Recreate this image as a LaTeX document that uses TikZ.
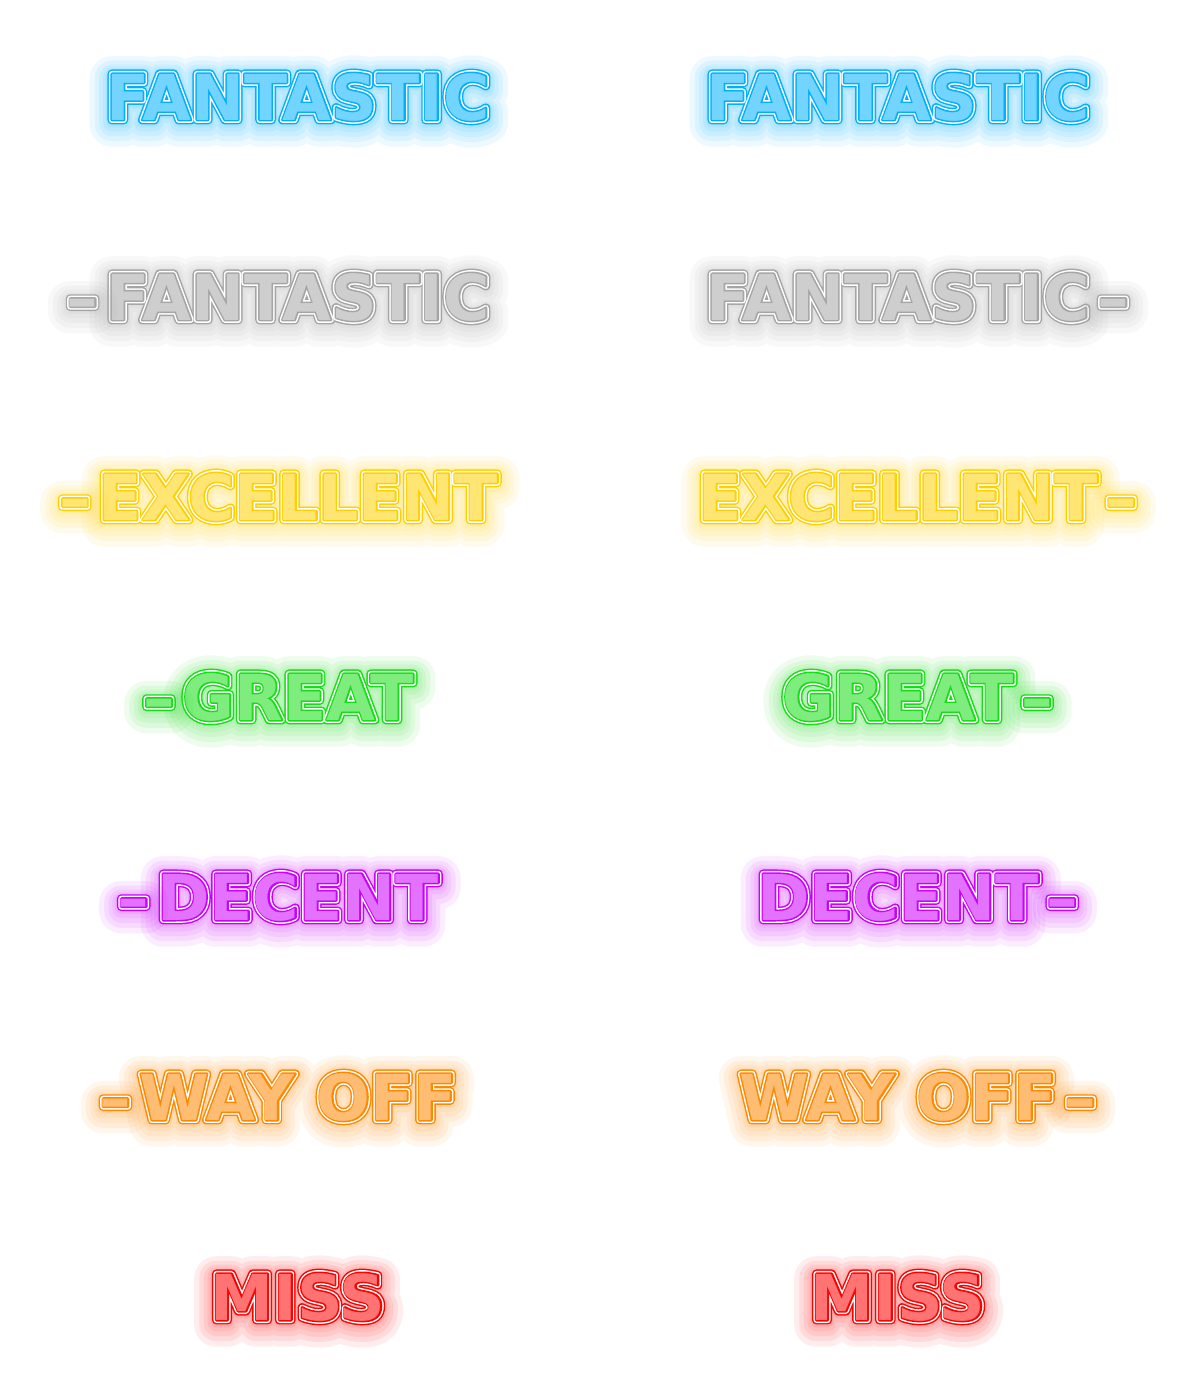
\documentclass[tikz,border=0pt]{standalone}
\usepackage{fontspec}
\usetikzlibrary{positioning}
\newfontfamily\neonfont{DejaVu Sans}[UprightFont=* Bold]
\definecolor{neonBlue}{RGB}{0,176,255}
\definecolor{neonGray}{RGB}{165,165,165}
\definecolor{neonGold}{RGB}{255,208,0}
\definecolor{neonGreen}{RGB}{20,222,20}
\definecolor{neonPurple}{RGB}{204,0,255}
\definecolor{neonOrange}{RGB}{255,136,0}
\definecolor{neonRed}{RGB}{255,0,0}
\tikzset{neontext/.style={inner sep=0pt, line join=round, font=\neonfont\fontsize{36}{40}\selectfont},
         glow/.style={transparency group, opacity=0.075, line join=round}}
\newcommand\neon[4]{%
  \node[neontext, #2] (#1) {\phantom{#4}};
  \begin{scope}[glow]
    \node[neontext, text=#3, yshift=-0.09cm] at (#1) {\pgfsetroundjoin\addfontfeature{FakeBold=70}#4};
  \end{scope}
  \begin{scope}[glow]
    \node[neontext, text=#3, yshift=-0.08cm] at (#1) {\pgfsetroundjoin\addfontfeature{FakeBold=54}#4};
  \end{scope}
  \begin{scope}[glow]
    \node[neontext, text=#3, yshift=-0.07cm] at (#1) {\pgfsetroundjoin\addfontfeature{FakeBold=40}#4};
  \end{scope}
  \begin{scope}[glow]
    \node[neontext, text=#3, yshift=-0.05cm] at (#1) {\pgfsetroundjoin\addfontfeature{FakeBold=28}#4};
  \end{scope}
  \begin{scope}[glow]
    \node[neontext, text=#3, yshift=-0.03cm] at (#1) {\pgfsetroundjoin\addfontfeature{FakeBold=19}#4};
  \end{scope}
  \node[neontext, text=#3] at (#1) {\addfontfeature{FakeBold=14}#4};
  \node[neontext, text=white] at (#1) {\addfontfeature{FakeBold=9.4}#4};
  \node[neontext, text=#3] at (#1) {\addfontfeature{FakeBold=4.7}#4};
  \node[neontext, text=#3!55] at (#1) {#4};
}

\begin{document}
\begin{tikzpicture}[line join=round]
			%%%%% START %%%%%
			\useasboundingbox[fill=white] (0, 0) rectangle (24, -28);
			
			\neon{fanL1}{anchor=base, at={(5.96, -2.4)}}{neonBlue}{FANTASTIC}
			\neon{fanR1}{anchor=base, at={(17.96, -2.4)}}{neonBlue}{FANTASTIC}
			
			\neon{fanL2}{anchor=base, at={(5.96, -6.4)}}{neonGray}{FANTASTIC}
			\neon{dashL2}{base left=0.14cm of fanL2}{neonGray}{–}
			\neon{fanR2}{anchor=base, at={(17.96, -6.4)}}{neonGray}{FANTASTIC}
			\neon{dashR2}{base right=0.14cm of fanR2}{neonGray}{–}
			
			\neon{excL}{anchor=base, at={(5.96, -10.4)}}{neonGold}{EXCELLENT}
			\neon{dashL3}{base left=0.14cm of excL}{neonGold}{–}
			\neon{excR}{anchor=base, at={(17.96, -10.4)}}{neonGold}{EXCELLENT}
			\neon{dashR3}{base right=0.14cm of excR}{neonGold}{–}
			
			\neon{grtL}{anchor=base, at={(5.96, -14.4)}}{neonGreen}{GREAT}
			\neon{dashL4}{base left=0.14cm of grtL}{neonGreen}{–}
			\neon{grtR}{anchor=base, at={(17.96, -14.4)}}{neonGreen}{GREAT}
			\neon{dashR4}{base right=0.14cm of grtR}{neonGreen}{–}
			
			\neon{decL}{anchor=base, at={(5.96, -18.4)}}{neonPurple}{DECENT}
			\neon{dashL5}{base left=0.14cm of decL}{neonPurple}{–}
			\neon{decR}{anchor=base, at={(17.96, -18.4)}}{neonPurple}{DECENT}
			\neon{dashR5}{base right=0.14cm of decR}{neonPurple}{–}
			
			\neon{wayL}{anchor=base, at={(5.96, -22.4)}}{neonOrange}{WAY OFF}
			\neon{dashL6}{base left=0.14cm of wayL}{neonOrange}{–}
			\neon{wayR}{anchor=base, at={(17.96, -22.4)}}{neonOrange}{WAY OFF}
			\neon{dashR6}{base right=0.14cm of wayR}{neonOrange}{–}
			
			\neon{missL}{anchor=base, at={(5.96, -26.4)}}{neonRed}{MISS}
			\neon{missR}{anchor=base, at={(17.96, -26.4)}}{neonRed}{MISS}
			%%%%% END %%%%%
\end{tikzpicture}
\end{document}
